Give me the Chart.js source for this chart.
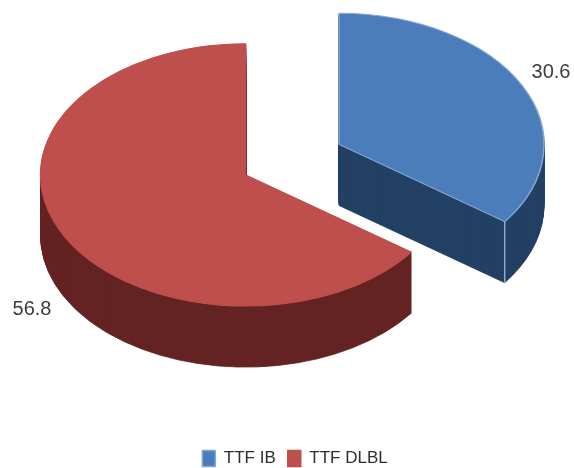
<!DOCTYPE html>
<html>
<head>
<meta charset="utf-8">
<style>
    html, body { margin: 0; padding: 0; background: #fff; }
    canvas { display: block; }
</style>
<script src="https://cdn.jsdelivr.net/npm/chart.js@4/dist/chart.umd.min.js"></script>
</head>
<body>
<canvas id="pie-chart" width="574" height="468"></canvas>
<script>
const categories = ["TTF IB", "TTF DLBL"];
const seriesValues = [30.6, 56.8];

const topColors = ["#4a7dba", "#bf4f4c"];
const sideColors = ["#234164", "#652423"];
const edgeColors = ["#86a8d4", "#bf4f4c"];

const pieRadius = 205;
const squash = 0.64;
const depth = 61;
const sliceGap = 52.4;
const pieCenter = { x: 292.3, y: 159.7 };
const valueLabelPos = [{ x: 551, y: 72 }, { x: 32, y: 309 }];

// where the slice's hub ends up on the canvas once pulled out and flattened
function hubOf(arc, lift) {
    const mid = (arc.startAngle + arc.endAngle) / 2;
    return {
        x: pieCenter.x + Math.cos(mid) * sliceGap,
        y: pieCenter.y + Math.sin(mid) * sliceGap * squash + lift
    };
}

function drawArc(ctx, arc, lift, overrides) {
    const hub = hubOf(arc, lift);
    const saved = arc.options;
    arc.options = Object.assign({}, saved, overrides);
    ctx.save();
    ctx.translate(hub.x, hub.y);
    ctx.scale(1, squash);
    ctx.translate(-arc.x, -arc.y);
    arc.draw(ctx);
    ctx.restore();
    arc.options = saved;
}

// draws the slices itself: dark copies stacked for the walls, then the top faces
const tiltedPie = {
    id: "tiltedPie",
    beforeDatasetsDraw(chart) {
        const ctx = chart.ctx;
        const arcs = chart.getDatasetMeta(0).data;

        for (let lift = depth; lift >= 1; lift--) {
            arcs.forEach((arc, i) => {
                drawArc(ctx, arc, lift, {
                    backgroundColor: sideColors[i],
                    borderColor: sideColors[i],
                    borderWidth: 1
                });
            });
        }
        arcs.forEach(arc => drawArc(ctx, arc, 0, {}));

        // light seam on the outer corner of the blue slice
        const blue = arcs[0];
        const hub = hubOf(blue, 0);
        const cornerX = hub.x + Math.cos(blue.endAngle) * blue.outerRadius;
        const cornerY = hub.y + Math.sin(blue.endAngle) * blue.outerRadius * squash;
        ctx.save();
        ctx.strokeStyle = "#a9c0de";
        ctx.lineWidth = 1.2;
        ctx.beginPath();
        ctx.moveTo(cornerX, cornerY);
        ctx.lineTo(cornerX, cornerY + depth);
        ctx.stroke();

        ctx.fillStyle = "#3c3c3c";
        ctx.font = "20px 'Liberation Sans'";
        ctx.textAlign = "center";
        ctx.textBaseline = "middle";
        seriesValues.forEach((v, i) => {
            ctx.fillText(v.toFixed(1), valueLabelPos[i].x, valueLabelPos[i].y);
        });
        ctx.restore();
        return false;
    }
};

new Chart(document.getElementById("pie-chart").getContext("2d"), {
    type: "pie",
    data: {
        labels: categories,
        datasets: [{
            data: seriesValues,
            backgroundColor: topColors,
            borderColor: edgeColors,
            borderWidth: 1.5
        }]
    },
    options: {
        responsive: false,
        animation: false,
        radius: pieRadius,
        layout: { autoPadding: false, padding: { left: 16, bottom: -9 } },
        plugins: {
            tooltip: { enabled: false },
            legend: {
                position: "bottom",
                labels: {
                    boxWidth: 13,
                    boxHeight: 16,
                    padding: 12,
                    color: "#2e2e2e",
                    font: { family: "'Liberation Sans'", size: 17 }
                }
            }
        }
    },
    plugins: [tiltedPie]
});
</script>
</body>
</html>
